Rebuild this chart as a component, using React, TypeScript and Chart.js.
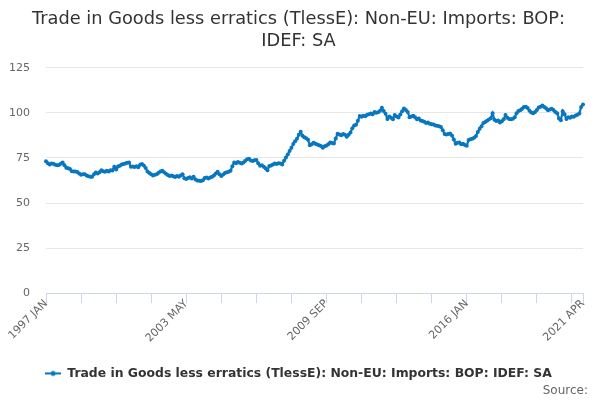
import React, { useEffect, useRef } from "react";
import { Chart, registerables } from "chart.js";

Chart.register(...registerables);

const SERIES_NAME = "Trade in Goods less erratics (TlessE): Non-EU: Imports: BOP: IDEF: SA";
const TITLE_LINES = ["Trade in Goods less erratics (TlessE): Non-EU: Imports: BOP:", "IDEF: SA"];
const MONTH_NAMES = ["JAN", "FEB", "MAR", "APR", "MAY", "JUN", "JUL", "AUG", "SEP", "OCT", "NOV", "DEC"];
const YEARS = [
  1997, 1998, 1999, 2000, 2001, 2002, 2003, 2004, 2005, 2006, 2007, 2008,
  2009, 2010, 2011, 2012, 2013, 2014, 2015, 2016, 2017, 2018, 2019, 2020, 2021,
];
const LAST_MONTH = "2021 APR";

// monthly index, Jan 1997 .. Apr 2021
const imports = [
  73.1, 72.0, 71.4, 71.9, 71.8, 71.2, 70.9, 71.1, 71.8, 72.5, 71.0, 69.6, // 1997
  69.3, 68.8, 67.6, 67.4, 67.5, 67.2, 66.4, 65.6, 65.9, 66.0, 65.3, 64.8, // 1998
  64.5, 64.6, 65.9, 66.9, 66.4, 67.0, 68.1, 67.6, 67.3, 67.9, 67.5, 68.2, // 1999
  68.0, 70.1, 68.6, 70.2, 70.7, 71.3, 71.6, 71.9, 72.3, 72.5, 70.1, 70.3, // 2000
  70.0, 70.4, 69.8, 71.2, 71.6, 70.8, 69.4, 67.5, 66.6, 66.0, 65.2, 65.6, // 2001
  66.0, 66.8, 67.4, 67.9, 67.0, 66.2, 65.5, 65.0, 65.3, 64.8, 64.4, 65.0, // 2002
  64.6, 65.2, 65.9, 63.7, 63.3, 63.9, 64.3, 63.6, 64.5, 63.0, 62.5, 62.4, // 2003
  62.2, 62.6, 63.8, 64.2, 63.6, 64.1, 64.6, 65.3, 66.3, 67.3, 66.0, 65.0, // 2004
  65.8, 66.7, 67.1, 67.3, 67.9, 70.4, 72.5, 72.1, 72.8, 72.3, 71.9, 72.4, // 2005
  73.4, 74.2, 74.6, 73.6, 73.3, 73.7, 73.8, 72.0, 70.6, 70.9, 70.1, 69.3, // 2006
  68.2, 70.5, 70.8, 71.4, 71.9, 71.6, 72.1, 71.9, 71.4, 73.4, 75.2, 76.9, // 2007
  78.8, 80.6, 82.7, 84.2, 85.6, 87.8, 89.5, 87.3, 86.4, 85.9, 85.0, 82.0, // 2008
  82.6, 83.4, 82.8, 82.5, 82.0, 81.6, 80.6, 81.4, 81.9, 82.6, 83.6, 83.2, // 2009
  83.0, 85.8, 88.4, 88.0, 87.6, 88.2, 87.9, 86.7, 87.8, 89.1, 91.4, 92.9, // 2010
  93.4, 95.6, 98.2, 97.8, 98.4, 98.1, 98.9, 99.2, 99.6, 99.2, 100.4, 100.1, // 2011
  100.3, 101.2, 102.8, 101.0, 99.5, 96.6, 97.9, 97.2, 96.5, 98.8, 97.9, 97.4, // 2012
  99.0, 100.9, 102.4, 101.6, 100.5, 97.6, 98.0, 98.4, 97.6, 96.5, 96.8, 95.7, // 2013
  95.4, 95.0, 94.4, 94.6, 94.0, 93.7, 93.5, 93.0, 92.8, 92.6, 92.2, 90.4, // 2014
  88.2, 88.0, 88.3, 88.6, 87.4, 85.2, 82.8, 83.4, 83.6, 82.6, 82.8, 82.2, // 2015
  81.8, 84.9, 85.3, 85.6, 86.2, 87.2, 89.4, 91.2, 92.6, 94.4, 94.9, 95.6, // 2016
  96.3, 97.0, 99.7, 96.2, 95.4, 95.8, 94.6, 95.3, 96.4, 98.8, 97.2, 96.6, // 2017
  96.4, 96.7, 97.6, 99.8, 101.0, 101.4, 102.2, 103.2, 103.4, 102.7, 101.2, 100.2, // 2018
  99.7, 100.4, 101.6, 102.9, 103.4, 104.1, 103.2, 102.6, 101.4, 101.8, 102.3, 101.6, // 2019
  100.4, 99.8, 96.8, 95.9, 100.9, 99.2, 96.6, 97.5, 97.2, 98.0, 97.8, 98.5, // 2020
  98.9, 99.6, 103.2, 104.6, // 2021
];

const labelledMonths = ["1997 JAN", "2003 MAY", "2009 SEP", "2016 JAN", "2021 APR"];
const yTicks = [0, 25, 50, 75, 100, 125];
const TICK_STEP = 19; // months between tick marks

const LINE_COLOR = "#0877c0";

const months: string[] = [];
for (const y of YEARS) {
  for (const m of MONTH_NAMES) {
    const label = `${y} ${m}`;
    months.push(label);
    if (label === LAST_MONTH) break;
  }
}

Chart.defaults.font.family = "'DejaVu Sans', sans-serif";

export default function App() {
  const canvasRef = useRef<HTMLCanvasElement>(null);

  useEffect(() => {
    document.body.style.margin = "0";
    if (!canvasRef.current) return;

    // legend marker: short line with a dot
    const mark = document.createElement("canvas");
    mark.width = 16;
    mark.height = 8;
    const mctx = mark.getContext("2d")!;
    mctx.strokeStyle = LINE_COLOR;
    mctx.lineWidth = 2;
    mctx.beginPath();
    mctx.moveTo(0, 4);
    mctx.lineTo(16, 4);
    mctx.stroke();
    mctx.fillStyle = LINE_COLOR;
    mctx.beginPath();
    mctx.arc(8, 4, 2.5, 0, Math.PI * 2);
    mctx.fill();

    const lastIndex = months.length - 1;

    const chart = new Chart(canvasRef.current, {
      type: "line",
      data: {
        labels: months,
        datasets: [
          {
            label: SERIES_NAME,
            data: imports,
            borderColor: LINE_COLOR,
            backgroundColor: LINE_COLOR,
            borderWidth: 2.2,
            pointRadius: 2,
            pointBorderWidth: 0,
            pointBackgroundColor: LINE_COLOR,
            tension: 0,
          },
        ],
      },
      options: {
        animation: false,
        responsive: true,
        maintainAspectRatio: false,
        layout: { padding: { left: 9, right: 12, top: 0, bottom: 0 } },
        plugins: {
          title: {
            display: true,
            text: TITLE_LINES,
            color: "#333333",
            font: { size: 17.8, weight: "normal" },
            padding: { top: 9, bottom: 16 },
          },
          subtitle: {
            display: true,
            text: "Source:",
            position: "bottom",
            align: "end",
            color: "#666666",
            font: { size: 12, weight: "normal" },
            padding: { top: -6, bottom: 2 },
          },
          legend: {
            position: "bottom",
            labels: {
              usePointStyle: true,
              pointStyle: mark,
              pointStyleWidth: 16,
              color: "#333333",
              font: { size: 12.4, weight: "bold" },
              padding: 5,
            },
          },
          tooltip: { enabled: false },
        },
        scales: {
          x: {
            grid: {
              drawOnChartArea: false,
              drawTicks: true,
              tickLength: 10,
              color: "#ccd6eb",
            },
            border: { color: "#ccd6eb" },
            afterBuildTicks: (scale) => {
              scale.ticks = scale.ticks.filter(
                (t) => t.value % TICK_STEP === 0 || t.value === lastIndex
              );
            },
            afterFit: (scale) => {
              // first label hangs into the left margin; keep a fixed right gap and room above the legend
              scale.paddingLeft = 0;
              scale.paddingRight = 17;
              scale.height = 69;
            },
            ticks: {
              autoSkip: false,
              maxRotation: 45,
              minRotation: 45,
              color: "#666666",
              font: { size: 11 },
              padding: -6,
              callback: (value) => {
                const label = months[value as number];
                return labelledMonths.includes(label) ? label : "";
              },
            },
          },
          y: {
            min: yTicks[0],
            max: yTicks[yTicks.length - 1],
            grid: { color: "#e6e6e6", drawTicks: false },
            border: { display: false },
            afterFit: (scale) => {
              scale.width = 37;
            },
            ticks: {
              stepSize: yTicks[1] - yTicks[0],
              color: "#666666",
              font: { size: 11 },
              padding: 16,
            },
          },
        },
      },
    });

    return () => {
      chart.destroy();
    };
  }, []);

  return (
    <div style={{ position: "relative", width: 600, height: 400 }}>
      <canvas ref={canvasRef} />
    </div>
  );
}
